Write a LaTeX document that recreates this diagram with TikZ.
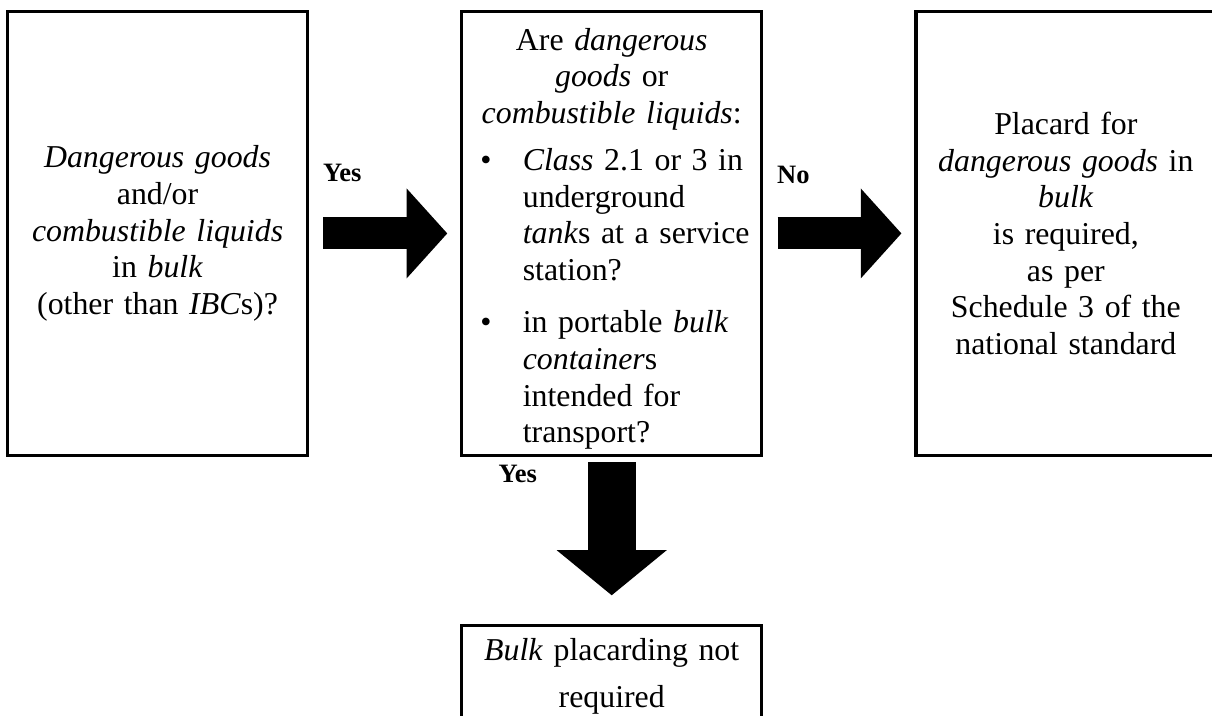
\documentclass[tikz,border=0pt]{standalone}
\usepackage{fontspec}
\setmainfont{Liberation Serif}
\usepackage{tikz}
\usetikzlibrary{positioning}
\usetikzlibrary{arrows.meta}
\tikzset{	node distance=57pt,
	box/.style={
		draw,
		line width=1.2pt,
		minimum width=113pt,
		minimum height=167.4pt,
		text width=99pt,
		inner sep=0pt,
		align=center,
		font=\fontsize{12}{13.8}\selectfont},
	lbl/.style={
		inner sep=0pt,
		font=\fontsize{10}{12}\selectfont\bfseries},
	every edge/.style={
		draw,
		line width=12.1pt,
		-{Triangle[length=15.3pt,width=33.9pt,line width=0pt]},
		shorten <=5.4pt,
		shorten >=4.9pt},
	down/.style={
		line width=18.1pt,
		-{Triangle[length=17pt,width=41.5pt,line width=0pt]},
		shorten <=1.9pt,
		shorten >=10.9pt}
}

\begin{document}
\begin{tikzpicture}
					\useasboundingbox (-59.4pt,88pt) rectangle (397.5pt,-181.9pt);
					\node[box] (B) {\emph{Dangerous goods}\\ and/or\\ \emph{combustible liquids}\\ in \emph{bulk}\\ (other than \emph{IBC}s)?};
					\node[box, right=of B] (E) {\rule{0pt}{14pt}Are \emph{dangerous}\\ \emph{goods} or\\ \emph{combustible liquids}:\\[4pt]
						\makebox[99pt][l]{\begin{tabular}[t]{@{}p{16pt}@{}l@{}}
							\textbullet & \emph{Class} 2.1 or 3 in\\
							& underground\\
							& \emph{tank}s at a service\\
							& station?\\[6pt]
							\textbullet & in portable \emph{bulk}\\
							& \emph{container}s\\
							& intended for\\
							& transport?
						\end{tabular}}};
					\node[box, right=of E] (P) {Placard for\\ \emph{dangerous goods} in\\ \emph{bulk}\\ is required,\\ as per\\ Schedule 3 of the\\ national standard};
					\node[box, minimum height=38pt, below=63pt of E] (N) {\emph{Bulk} placarding not\\[3.9pt] required};
					\draw (B) edge node[lbl, pos=.22, yshift=22.8pt] {Yes} (E);
					\draw (E) edge node[lbl, pos=.2, yshift=22pt] {No} (P);
					\draw (E) edge[down] node[lbl, pos=.1, xshift=-35.4pt] {Yes} (N);
				\end{tikzpicture}
\end{document}
